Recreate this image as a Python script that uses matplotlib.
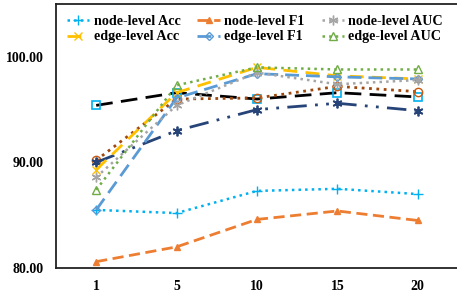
import numpy as np
import matplotlib
matplotlib.use("Agg")
from matplotlib import pyplot as plt

plt.rcParams['font.family'] = ['Liberation Serif', 'DejaVu Serif']
plt.rcParams['font.weight'] = 'bold'

k_labels = ["1", "5", "10", "15", "20"]

node_acc = [85.5, 85.2, 87.3, 87.5, 87.0]
node_f1 = [80.6, 82.0, 84.6, 85.4, 84.5]
node_auc = [88.6, 95.4, 98.5, 97.4, 97.8]
edge_acc = [89.3, 96.6, 99.0, 98.2, 97.9]
edge_f1 = [85.5, 96.1, 98.4, 98.1, 97.9]
edge_auc = [87.4, 97.3, 99.0, 98.8, 98.8]
# three unlabeled series
extra_black = [95.4, 96.6, 96.0, 96.6, 96.2]
extra_brown = [90.2, 96.0, 96.1, 97.2, 96.7]
extra_navy = [90.0, 93.0, 95.0, 95.6, 94.9]

x = np.arange(len(k_labels))

fig = plt.figure(figsize=(4.57, 2.96), dpi=100)
ax = fig.add_axes([56/457, 28/296, 1.0 - 56/457 + 0.002, 264/296])

ax.plot(x, extra_black, color="black", lw=2, dashes=(6, 3), marker="s", ms=6,
        mfc="none", mec="#00B0F0", mew=1.2)
ax.plot(x, extra_brown, color="#9E480E", lw=2, ls=":", marker="o", ms=6,
        mfc="none", mec="#C55A11", mew=1.0)
ax.plot(x, extra_navy, color="#264478", lw=2, dashes=(7, 3, 1, 3, 1, 3), marker=(6, 2, 0),
        ms=7, mec="#264478", mew=1.3)

l1, = ax.plot(x, node_acc, color="#00B0F0", lw=1.8, ls=":", marker="+", ms=7, mew=1.0,
              label="node-level Acc")
l2, = ax.plot(x, edge_acc, color="#FFC000", lw=2, dashes=(5, 3), marker="x", ms=6, mew=1.0,
              label="edge-level Acc")
l3, = ax.plot(x, node_f1, color="#ED7D31", lw=2, dashes=(4, 2), marker="^", ms=4.5,
              label="node-level F1")
l4, = ax.plot(x, edge_f1, color="#5B9BD5", lw=2, dashes=(5, 2.5), marker="D", ms=4.5,
              mfc="none", mew=1.0, label="edge-level F1")
l5, = ax.plot(x, node_auc, color="#A5A5A5", lw=1.8, ls=":", marker=(6, 2, 0), ms=7, mew=1.0,
              label="node-level AUC")
l6, = ax.plot(x, edge_auc, color="#70AD47", lw=1.8, ls=":", marker="^", ms=6, mfc="none",
              mew=1.0, label="edge-level AUC")

ax.set_xlim(-0.5, len(k_labels) - 0.5)
ax.set_ylim(80, 105)
ax.set_yticks([80, 90, 100])
ax.set_yticklabels(["%.2f" % v for v in [80, 90, 100]])
ax.set_xticks(x)
ax.set_xticklabels(k_labels)
ax.tick_params(length=0, labelsize=10, pad=9)
for lab in ax.get_xticklabels() + ax.get_yticklabels():
    lab.set_fontweight("bold")

for s in ["left", "bottom", "top"]:
    ax.spines[s].set_linewidth(1.3)
    ax.spines[s].set_color("#222222")
ax.spines["right"].set_visible(False)

ax.legend(handles=[l1, l2, l3, l4, l5, l6], ncol=3, loc="upper left",
          bbox_to_anchor=(0.0, 1.0), frameon=False,
          prop={"weight": "bold", "size": 10.2}, handlelength=1.6,
          handletextpad=0.3, columnspacing=1.2, labelspacing=0.2, borderaxespad=0.35)

fig.savefig("out.png", dpi=100)
